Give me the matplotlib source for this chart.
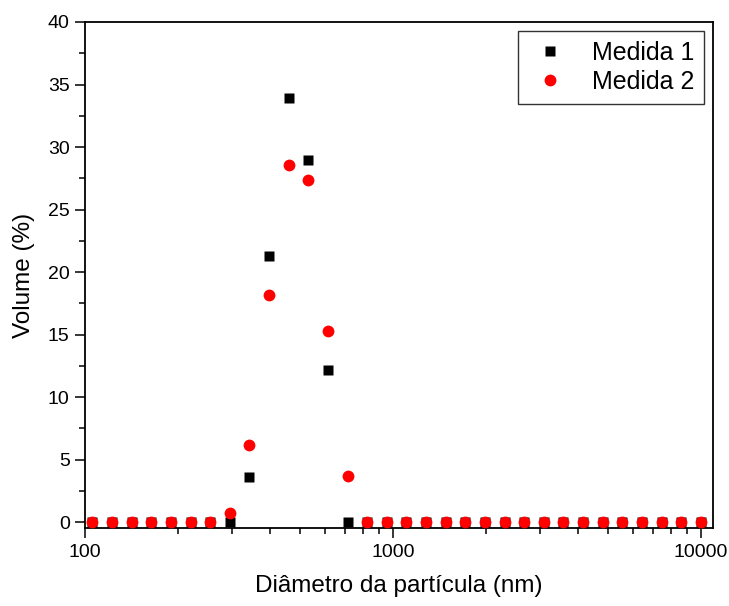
import numpy as np
import matplotlib
matplotlib.use("Agg")
import matplotlib.pyplot as plt
from matplotlib.ticker import LogLocator, MultipleLocator, FixedLocator, NullFormatter

plt.rcParams['font.family'] = ['Liberation Sans', 'DejaVu Sans']

# diâmetros das classes (nm)
diametro = [105.7, 122.4, 141.8, 164.2, 190.1, 220.2, 255.0, 295.3, 342.0, 396.1,
            458.7, 531.2, 615.1, 712.4, 825.0, 955.4, 1106, 1281, 1484, 1718,
            1990, 2305, 2669, 3091, 3580, 4145, 4801, 5560, 6439, 7456, 8635, 10000]

# volume (%) de cada medida
medida1 = [0, 0, 0, 0, 0, 0, 0, 0, 3.6, 21.3,
           33.9, 29.0, 12.2, 0, 0, 0, 0, 0, 0, 0,
           0, 0, 0, 0, 0, 0, 0, 0, 0, 0, 0, 0]
medida2 = [0, 0, 0, 0, 0, 0, 0, 0.7, 6.2, 18.2,
           28.6, 27.4, 15.3, 3.7, 0, 0, 0, 0, 0, 0,
           0, 0, 0, 0, 0, 0, 0, 0, 0, 0, 0, 0]

fig = plt.figure(figsize=(7.29, 6.06), dpi=100)
ax = fig.add_axes([0.1166, 0.1279, 0.8618, 0.8358])

ax.plot(diametro, medida1, 's', color='black', ms=7.5,
        mec='none', label='Medida 1', clip_on=False, zorder=3)
ax.plot(diametro, medida2, 'o', color='red', ms=8.5, mec='none',
        label='Medida 2', clip_on=False, zorder=3)

ax.set_xscale('log')
ax.set_xlim(100, 10970)
ax.set_ylim(-0.5, 40)

ax.xaxis.set_major_locator(FixedLocator([100, 1000, 10000]))
ax.xaxis.set_minor_locator(LogLocator(base=10, subs=np.arange(2, 10), numticks=20))
ax.xaxis.set_minor_formatter(NullFormatter())
ax.set_xticklabels(['100', '1000', '10000'])
ax.yaxis.set_major_locator(MultipleLocator(5))
ax.yaxis.set_minor_locator(MultipleLocator(2.5))

ax.tick_params(which='major', direction='out', length=7, width=1.1,
               labelsize=14, pad=4, top=False, right=False)
ax.tick_params(which='minor', direction='out', length=4, width=1.1,
               top=False, right=False)
for s in ax.spines.values():
    s.set_linewidth(1.3)

ax.set_xlabel('Diâmetro da partícula (nm)', fontsize=17.5, labelpad=10)
ax.set_ylabel('Volume (%)', fontsize=17.5, labelpad=9)

leg = ax.legend(loc='upper right', fontsize=18, frameon=True, fancybox=False,
                borderpad=0.4, handletextpad=0.8, labelspacing=0.2,
                handlelength=1.76, borderaxespad=0,
                bbox_to_anchor=(0.9857, 0.9828))
leg.get_frame().set_edgecolor('black')
leg.get_frame().set_linewidth(1.0)

fig.savefig('out.png', dpi=100)
